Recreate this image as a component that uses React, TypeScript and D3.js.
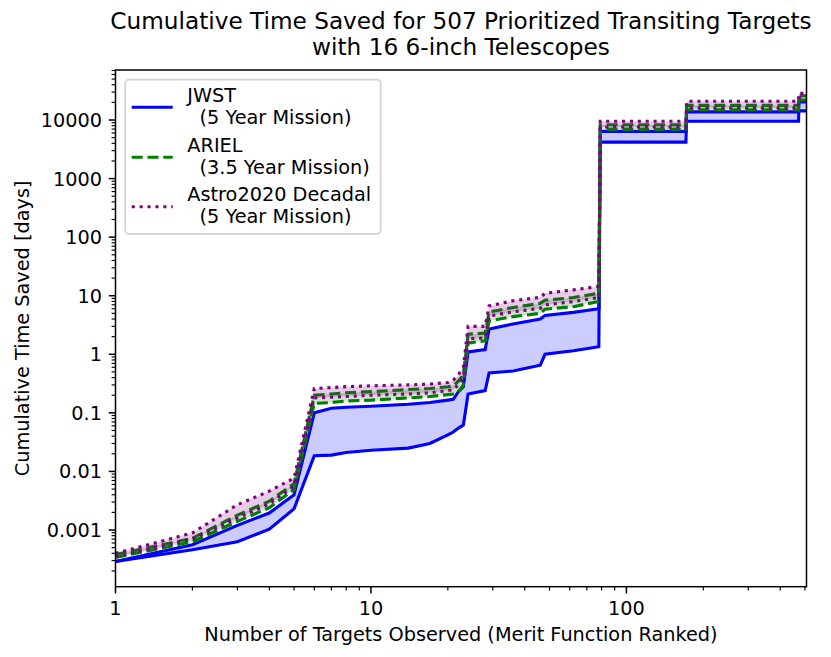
import React from 'react';
import * as d3 from 'd3';

// number of targets observed (rank), breakpoints of the cumulative curves
const targets = [1, 2, 3, 4, 5, 6, 7, 8, 10, 14, 17, 20, 21, 22, 23, 24, 28, 29, 36, 46, 48, 62, 78, 79, 171, 172, 472, 473, 507];

// cumulative time saved [days], lower / upper bound of each mission
const jwstLow = [2.9e-4, 4.6e-4, 6.3e-4, 1.03e-3, 2.3e-3, 0.0185, 0.019, 0.021, 0.023, 0.025, 0.03, 0.042, 0.047, 0.055, 0.062, 0.21, 0.24, 0.48, 0.52, 0.65, 1.0, 1.15, 1.35, 4200, 4200, 9500, 9500, 14300, 14300];
const jwstHigh = [2.9e-4, 5.6e-4, 1.2e-3, 1.95e-3, 4.0e-3, 0.1, 0.12, 0.125, 0.13, 0.14, 0.15, 0.165, 0.17, 0.23, 0.28, 1.1, 1.2, 2.7, 3.3, 4.0, 4.6, 5.2, 6.0, 6400, 6400, 13800, 13800, 20400, 20400];
const arielLow = [3.4e-4, 6.3e-4, 1.4e-3, 2.4e-3, 4.9e-3, 0.145, 0.15, 0.16, 0.165, 0.18, 0.19, 0.205, 0.21, 0.23, 0.3, 1.55, 1.7, 3.7, 4.4, 5.0, 5.9, 6.5, 8.0, 7000, 7000, 15000, 15000, 22000, 22000];
const arielHigh = [3.8e-4, 7.2e-4, 1.8e-3, 3.1e-3, 6.2e-3, 0.2, 0.21, 0.22, 0.23, 0.25, 0.26, 0.28, 0.29, 0.35, 0.45, 2.2, 2.3, 5.3, 6.3, 7.4, 8.4, 9.3, 11, 8300, 8300, 17800, 17800, 26000, 26000];
const astroLow = [3.5e-4, 7.0e-4, 1.6e-3, 2.8e-3, 5.6e-3, 0.18, 0.185, 0.19, 0.2, 0.21, 0.22, 0.24, 0.25, 0.3, 0.4, 1.85, 1.9, 4.5, 5.3, 6.1, 7.0, 7.9, 9.3, 7600, 7600, 16000, 16000, 24000, 24000];
const astroHigh = [4.0e-4, 8.9e-4, 2.7e-3, 4.6e-3, 7.7e-3, 0.26, 0.27, 0.28, 0.29, 0.3, 0.31, 0.33, 0.36, 0.45, 0.6, 3.0, 3.0, 6.7, 8.2, 9.4, 11, 12.6, 14.4, 9500, 9500, 20900, 20900, 28500, 28500];

const xTicks = [1, 10, 100];
const xTickLabels = ['1', '10', '100'];
const yTicks = [0.001, 0.01, 0.1, 1, 10, 100, 1000, 10000];
const yTickLabels = ['0.001', '0.01', '0.1', '1', '10', '100', '1000', '10000'];

const legendNames = ['JWST', 'ARIEL', 'Astro2020 Decadal'];
const legendMissions = ['(5 Year Mission)', '(3.5 Year Mission)', '(5 Year Mission)'];

const W = 831;
const H = 657;
const left = 115.5;
const right = 806.5;
const top = 70;
const bottom = 586.7;
const font = 'DejaVu Sans, sans-serif';
const fs = 19.3;
const lw = 3.1;

const x = d3.scaleLog().domain([1, 507]).range([left, right]);
const y = d3.scaleLog().domain([1.076e-4, 71450]).range([bottom, top]);

const series = [
  { low: jwstLow, high: jwstHigh, color: 'blue', dash: undefined as string | undefined },
  { low: arielLow, high: arielHigh, color: 'green', dash: '11 4.8' },
  { low: astroLow, high: astroHigh, color: 'purple', dash: '3.1 4.8' },
];

function minorTicks(scale: d3.ScaleLogarithmic<number, number>) {
  const [d0, d1] = scale.domain();
  const out: number[] = [];
  for (let e = Math.floor(Math.log10(d0)); e <= Math.ceil(Math.log10(d1)); e++) {
    for (let k = 2; k <= 9; k++) {
      const v = k * Math.pow(10, e);
      if (v >= d0 && v <= d1) out.push(v);
    }
  }
  return out;
}

export default function App() {
  const line = (vals: number[]) =>
    d3.line<number>().x((_, i) => x(targets[i])).y((d) => y(d))(vals) || '';
  const area = (lo: number[], hi: number[]) =>
    d3
      .area<number>()
      .x((_, i) => x(targets[i]))
      .y0((_, i) => y(lo[i]))
      .y1((_, i) => y(hi[i]))(targets) || '';

  const legendY = [107.3, 157.3, 206.7];

  return (
    <svg width={W} height={H} style={{ position: 'absolute', left: 0, top: 0, background: '#fff' }} fontFamily={font}>
      <rect x={0} y={0} width={W} height={H} fill="#fff" />
      <defs>
        <clipPath id="plot">
          <rect x={left} y={top} width={right - left} height={bottom - top} />
        </clipPath>
      </defs>

      {/* title */}
      <text x={(left + right) / 2} y={29} fontSize={23.2} textAnchor="middle">
        Cumulative Time Saved for 507 Prioritized Transiting Targets
      </text>
      <text x={(left + right) / 2} y={55} fontSize={23.2} textAnchor="middle">
        with 16 6-inch Telescopes
      </text>

      <g clipPath="url(#plot)">
        {series.map((s, i) => (
          <g key={i}>
            <path d={area(s.low, s.high)} fill={s.color} fillOpacity={0.2} stroke="none" />
            {[s.low, s.high].map((v, j) => (
              <path key={j} d={line(v)} fill="none" stroke={s.color} strokeWidth={lw} strokeDasharray={s.dash} />
            ))}
          </g>
        ))}
      </g>

      {/* spines */}
      <rect x={left} y={top} width={right - left} height={bottom - top} fill="none" stroke="#000" strokeWidth={1.5} />

      {/* x ticks */}
      {minorTicks(x).map((v) => (
        <line key={'xm' + v} x1={x(v)} x2={x(v)} y1={bottom} y2={bottom + 3.9} stroke="#000" strokeWidth={1.15} />
      ))}
      {xTicks.map((v, i) => (
        <g key={'x' + v}>
          <line x1={x(v)} x2={x(v)} y1={bottom} y2={bottom + 6.75} stroke="#000" strokeWidth={1.5} />
          <text x={x(v)} y={bottom + 13.5 + 14.5} fontSize={fs} textAnchor="middle">
            {xTickLabels[i]}
          </text>
        </g>
      ))}

      {/* y ticks */}
      {minorTicks(y).map((v) => (
        <line key={'ym' + v} x1={left - 3.9} x2={left} y1={y(v)} y2={y(v)} stroke="#000" strokeWidth={1.15} />
      ))}
      {yTicks.map((v, i) => (
        <g key={'y' + v}>
          <line x1={left - 6.75} x2={left} y1={y(v)} y2={y(v)} stroke="#000" strokeWidth={1.5} />
          <text x={left - 13.5} y={y(v)} dy="0.36em" fontSize={fs} textAnchor="end">
            {yTickLabels[i]}
          </text>
        </g>
      ))}

      {/* axis labels */}
      <text x={(left + right) / 2} y={641} fontSize={fs} textAnchor="middle">
        Number of Targets Observed (Merit Function Ranked)
      </text>
      <text transform={`translate(29,${(top + bottom) / 2}) rotate(-90)`} fontSize={fs} textAnchor="middle">
        Cumulative Time Saved [days]
      </text>

      {/* legend */}
      <rect x={125.2} y={79.6} width={255.5} height={154.4} rx={4} fill="#fff" fillOpacity={0.8} stroke="#cccccc" strokeOpacity={0.8} strokeWidth={1.9} />
      {series.map((s, i) => (
        <g key={'lg' + i}>
          <line x1={131.7} x2={172.7} y1={legendY[i]} y2={legendY[i]} stroke={s.color} strokeWidth={lw} strokeDasharray={s.dash} />
          <text x={187.3} y={legendY[i] - 5.8} fontSize={fs}>
            {legendNames[i]}
          </text>
          <text x={187.3} y={legendY[i] + 16.2} fontSize={fs} style={{ whiteSpace: 'pre' }}>
            {'  ' + legendMissions[i]}
          </text>
        </g>
      ))}
    </svg>
  );
}
